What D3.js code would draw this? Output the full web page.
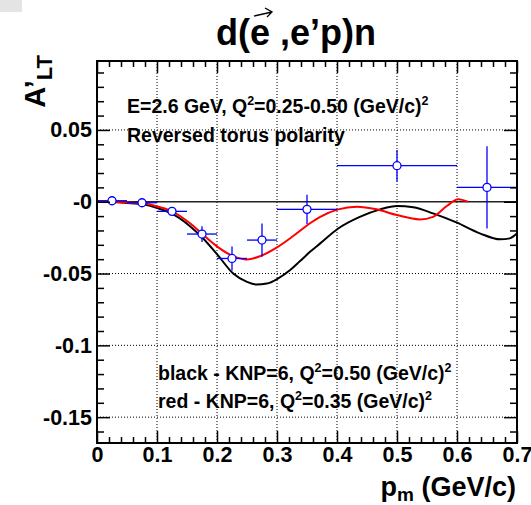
<!DOCTYPE html>
<html>
<head>
<meta charset="utf-8">
<script src="https://cdn.jsdelivr.net/npm/d3@7"></script>
<style>
  html, body { margin: 0; padding: 0; background: #fff; }
  svg { display: block; }
  text { font-family: "Liberation Sans", Arial, Helvetica, sans-serif; font-weight: bold; fill: #000; }
</style>
</head>
<body>
<svg id="chart" width="531" height="505"></svg>
<script>
// ---- data ----
const xDomain = [0, 0.7];
const yDomain = [-0.168, 0.098];
const xTickValues = [0, 0.1, 0.2, 0.3, 0.4, 0.5, 0.6, 0.7];
const xTickLabels = ["0", "0.1", "0.2", "0.3", "0.4", "0.5", "0.6", "0.7"];
const yTickValues = [-0.15, -0.1, -0.05, 0, 0.05];
const yTickLabels = ["-0.15", "-0.1", "-0.05", "-0", "0.05"];

// data points: p_m, A'_LT, x half-width, y error
const pointX    = [0.025, 0.075, 0.125, 0.175, 0.225, 0.275, 0.35, 0.5, 0.65];
const pointY    = [0.0007, -0.0007, -0.0067, -0.0225, -0.0395, -0.0267, -0.0053, 0.0251, 0.0100];
const pointXErr = [0.025, 0.025, 0.025, 0.025, 0.025, 0.025, 0.05, 0.1, 0.05];
const pointYErr = [0.001, 0.001, 0.002, 0.0055, 0.0084, 0.0116, 0.0102, 0.011, 0.0287];

// theory curves
const blackX = [0, 0.025, 0.05, 0.077, 0.102, 0.127, 0.155, 0.177, 0.201, 0.227, 0.25, 0.266, 0.283, 0.302, 0.322, 0.338, 0.355, 0.372, 0.402, 0.438, 0.472, 0.5, 0.527, 0.56, 0.6, 0.638, 0.672, 0.688, 0.7];
const blackY = [0, -0.0002, -0.0008, -0.0018, -0.0046, -0.0088, -0.017, -0.0256, -0.037, -0.050, -0.0558, -0.0576, -0.057, -0.0534, -0.0476, -0.0415, -0.0349, -0.029, -0.0186, -0.0105, -0.0053, -0.003, -0.0039, -0.0081, -0.0146, -0.022, -0.0262, -0.0255, -0.022];
const redX = [0, 0.025, 0.05, 0.077, 0.102, 0.127, 0.155, 0.177, 0.201, 0.227, 0.25, 0.272, 0.3, 0.327, 0.355, 0.372, 0.402, 0.433, 0.466, 0.5, 0.538, 0.56, 0.583, 0.602, 0.618];
const redY = [0, -0.0002, -0.0006, -0.0011, -0.0035, -0.007, -0.015, -0.023, -0.0314, -0.0379, -0.0402, -0.0379, -0.0318, -0.0239, -0.015, -0.0105, -0.0053, -0.0035, -0.0053, -0.0093, -0.0123, -0.0105, -0.003, 0.0017, 0.0];

// ---- layout ----
const L = 97, R = 517, T = 61, B = 443;
const svg = d3.select("#chart");
const x = d3.scaleLinear().domain(xDomain).range([L, R]);
const y = d3.scaleLinear().domain(yDomain).range([B, T]);

// small grey box in the corner
svg.append("rect").attr("x", 0).attr("y", 0).attr("width", 22).attr("height", 12).attr("fill", "#e4e4e4");

// grid
const gridX = xTickValues.filter(v => v > 0 && v < 0.7);
svg.append("g").selectAll("line").data(gridX).join("line")
  .attr("x1", d => x(d)).attr("x2", d => x(d)).attr("y1", T).attr("y2", B)
  .attr("stroke", "#000").attr("stroke-width", 1).attr("stroke-dasharray", "1,2");
svg.append("g").selectAll("line").data(yTickValues.filter(v => v !== 0)).join("line")
  .attr("x1", L).attr("x2", R).attr("y1", d => y(d)).attr("y2", d => y(d))
  .attr("stroke", "#000").attr("stroke-width", 1).attr("stroke-dasharray", "1,2");

// zero line
svg.append("line").attr("x1", L).attr("x2", R).attr("y1", y(0)).attr("y2", y(0))
  .attr("stroke", "#222").attr("stroke-width", 1.5);

// curves
const line = d3.line().x(d => x(d[0])).y(d => y(d[1])).curve(d3.curveMonotoneX);
svg.append("path").datum(blackX.map((v, i) => [v, blackY[i]]))
  .attr("d", line).attr("fill", "none").attr("stroke", "#000").attr("stroke-width", 2);
svg.append("path").datum(redX.map((v, i) => [v, redY[i]]))
  .attr("d", line).attr("fill", "none").attr("stroke", "#ff0000").attr("stroke-width", 2);

// data points
const pts = pointX.map((v, i) => ({ x: v, y: pointY[i], ex: pointXErr[i], ey: pointYErr[i] }));
const blue = "#0000ff";
const r = 4;
const pg = svg.append("g");
pts.forEach(p => {
  const cx = x(p.x), cy = y(p.y);
  pg.append("line").attr("x1", x(p.x - p.ex)).attr("x2", cx - r).attr("y1", cy).attr("y2", cy)
    .attr("stroke", blue).attr("stroke-width", 1.3);
  pg.append("line").attr("x1", cx + r).attr("x2", Math.min(x(p.x + p.ex), R)).attr("y1", cy).attr("y2", cy)
    .attr("stroke", blue).attr("stroke-width", 1.3);
  if (y(p.y + p.ey) < cy - r) {
    pg.append("line").attr("x1", cx).attr("x2", cx).attr("y1", y(p.y + p.ey)).attr("y2", cy - r)
      .attr("stroke", blue).attr("stroke-width", 1.3);
    pg.append("line").attr("x1", cx).attr("x2", cx).attr("y1", cy + r).attr("y2", y(p.y - p.ey))
      .attr("stroke", blue).attr("stroke-width", 1.3);
  }
  pg.append("circle").attr("cx", cx).attr("cy", cy).attr("r", r)
    .attr("fill", "#fff").attr("stroke", blue).attr("stroke-width", 1.3);
});

// axes
const xMinor = d3.range(0.02, 0.7, 0.02).filter(v => Math.abs(v * 10 - Math.round(v * 10)) > 1e-6);
const yMinor = d3.range(-0.16, 0.095, 0.01).filter(v => Math.abs(v * 20 - Math.round(v * 20)) > 1e-6);

function styleAxis(g) {
  g.select(".domain").remove();
  g.selectAll(".tick line").attr("stroke", "#000").attr("stroke-width", 1.5);
  g.selectAll("text").style("font-size", "21.5px").style("font-weight", "bold")
    .style("font-family", '"Liberation Sans", Arial, sans-serif').attr("fill", "#000");
}
svg.append("g").attr("transform", `translate(0,${B})`)
  .call(d3.axisBottom(x).tickValues(xTickValues).tickSize(-12).tickPadding(4)
    .tickFormat((d, i) => xTickLabels[i])).call(styleAxis);
svg.append("g").attr("transform", `translate(0,${B})`)
  .call(d3.axisBottom(x).tickValues(xMinor).tickSize(-6).tickFormat("")).call(styleAxis);
svg.append("g").attr("transform", `translate(0,${T})`)
  .call(d3.axisTop(x).tickValues(xTickValues).tickSize(-12).tickFormat("")).call(styleAxis);
svg.append("g").attr("transform", `translate(0,${T})`)
  .call(d3.axisTop(x).tickValues(xMinor).tickSize(-6).tickFormat("")).call(styleAxis);
svg.append("g").attr("transform", `translate(${L},0)`)
  .call(d3.axisLeft(y).tickValues(yTickValues).tickSize(-13).tickPadding(5)
    .tickFormat((d, i) => yTickLabels[i])).call(styleAxis);
svg.append("g").attr("transform", `translate(${L},0)`)
  .call(d3.axisLeft(y).tickValues(yMinor).tickSize(-7).tickFormat("")).call(styleAxis);
svg.append("g").attr("transform", `translate(${R},0)`)
  .call(d3.axisRight(y).tickValues(yTickValues).tickSize(-13).tickFormat("")).call(styleAxis);
svg.append("g").attr("transform", `translate(${R},0)`)
  .call(d3.axisRight(y).tickValues(yMinor).tickSize(-7).tickFormat("")).call(styleAxis);

// frame
svg.append("rect").attr("x", L).attr("y", T).attr("width", R - L).attr("height", B - T)
  .attr("fill", "none").attr("stroke", "#000").attr("stroke-width", 2);

// title
const title = svg.append("text").attr("x", 296).attr("y", 45).attr("text-anchor", "middle")
  .style("font-size", "36px");
title.append("tspan").text("d(");
title.append("tspan").text("e");
title.append("tspan").text(" ,e’p)n");
svg.append("path").attr("id", "arrow").attr("fill", "none").attr("stroke", "#000").attr("stroke-width", 1.3);
(function placeArrow() {
  const tb = title.node();
  const s = tb.getStartPositionOfChar(2), e = tb.getEndPositionOfChar(2);
  const x0 = s.x + 4, x1 = e.x + 2, yy = 13;
  d3.select("#arrow").attr("d", `M${x0},${yy + 3}L${x1},${yy - 1}M${x1 - 7},${yy - 5}L${x1},${yy - 1}L${x1 - 5},${yy + 4}`);
})();

// axis titles
const yl = svg.append("text").attr("transform", "translate(45,55) rotate(-90)")
  .attr("text-anchor", "end").style("font-size", "29px");
yl.append("tspan").text("A’");
yl.append("tspan").attr("dy", 7).style("font-size", "22px").text("LT");

const xl = svg.append("text").attr("x", 516).attr("y", 496).attr("text-anchor", "end").style("font-size", "27px");
xl.append("tspan").text("p");
xl.append("tspan").attr("dy", 5).style("font-size", "19px").text("m");
xl.append("tspan").attr("dy", -5).text(" (GeV/c)");

// annotations
function supText(xp, yp, parts) {
  const t = svg.append("text").attr("x", xp).attr("y", yp).style("font-size", "19.5px");
  parts.forEach(p => {
    if (p.sup) t.append("tspan").attr("dy", -8).style("font-size", "12.5px").text(p.t);
    else t.append("tspan").attr("dy", p.after ? 8 : 0).text(p.t);
  });
  return t;
}
supText(127, 113, [{t: "E=2.6 GeV, Q"}, {t: "2", sup: true}, {t: "=0.25-0.50 (GeV/c)", after: true}, {t: "2", sup: true}]);
svg.append("text").attr("x", 127).attr("y", 142).style("font-size", "19.5px").text("Reversed torus polarity");
supText(158, 380, [{t: "black - KNP=6, Q"}, {t: "2", sup: true}, {t: "=0.50 (GeV/c)", after: true}, {t: "2", sup: true}]);
supText(158, 408, [{t: "red - KNP=6, Q"}, {t: "2", sup: true}, {t: "=0.35 (GeV/c)", after: true}, {t: "2", sup: true}]);
</script>
</body>
</html>
